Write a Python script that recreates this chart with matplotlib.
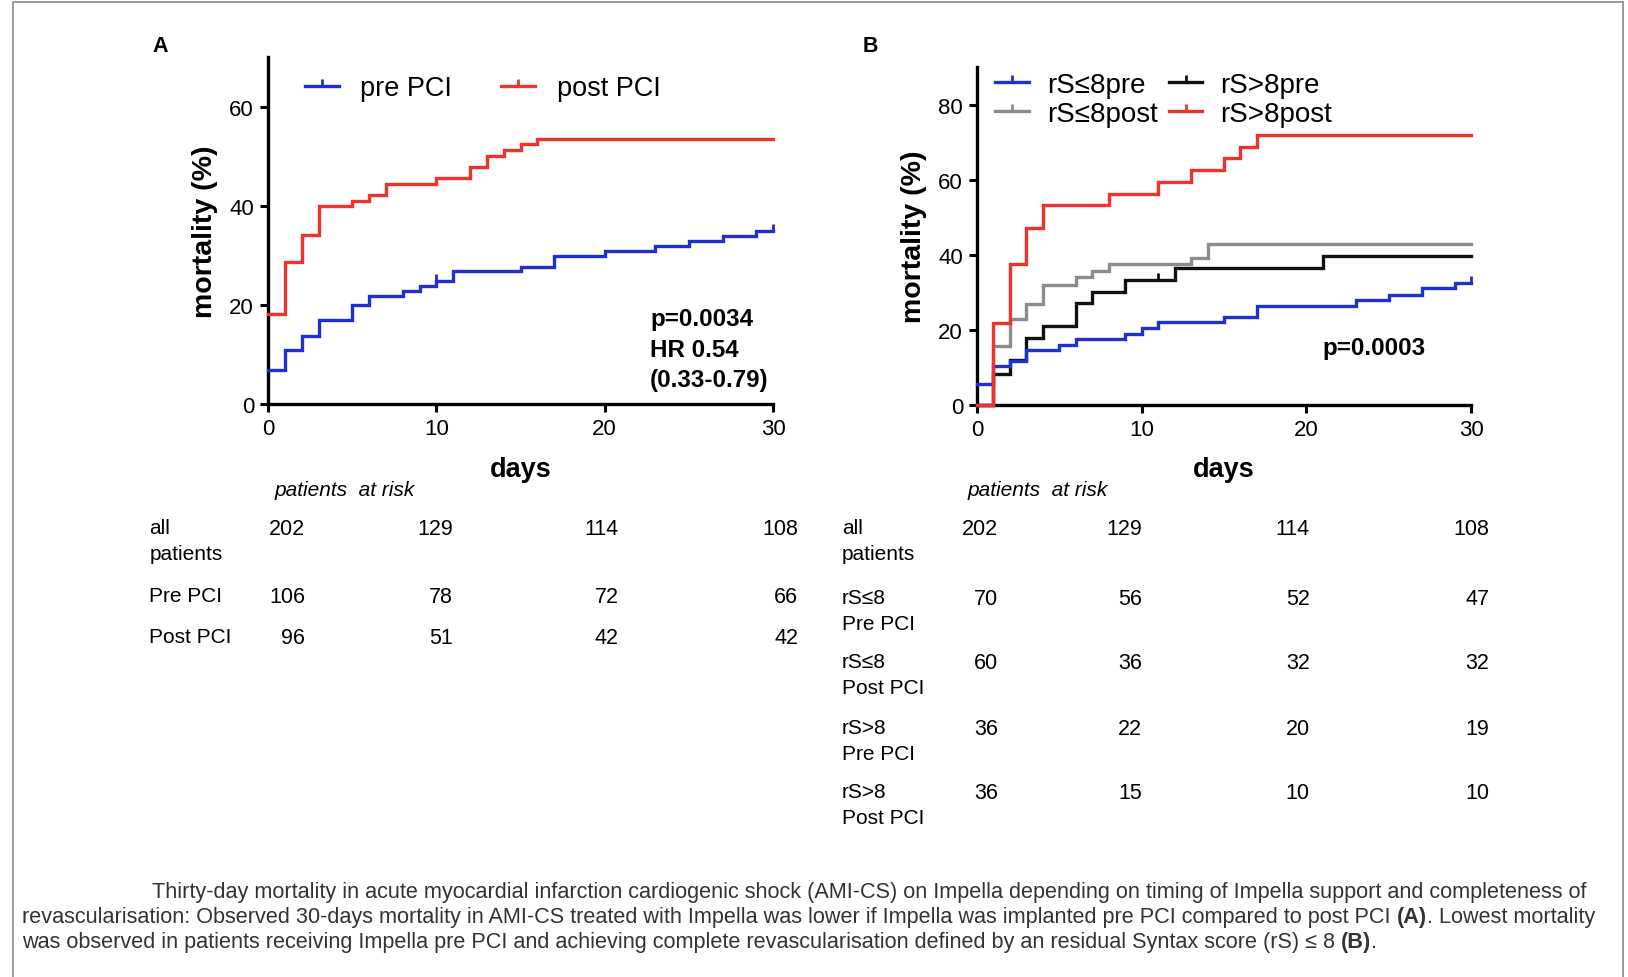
import matplotlib
matplotlib.use("Agg")
import matplotlib.pyplot as plt
from matplotlib.path import Path
from matplotlib.lines import Line2D
from matplotlib.patches import Rectangle
from matplotlib import transforms, font_manager

W, H = 1628, 978

# ---------------- data ----------------
# Panel A: Kaplan-Meier mortality (%) by timing of Impella support
pre_days = [0, 1, 2, 3, 5, 6, 8, 9, 10, 11, 15, 17, 20, 23, 25, 27, 29, 30]
pre_mort = [6.8, 10.8, 13.8, 16.9, 19.9, 21.8, 22.8, 23.8, 24.8, 26.8, 27.7,
            29.8, 30.8, 31.8, 32.8, 33.8, 34.9, 34.9]
post_days = [0, 1, 2, 3, 5, 6, 7, 10, 12, 13, 14, 15, 16, 30]
post_mort = [18.2, 28.6, 34.1, 39.9, 40.9, 42.1, 44.4, 45.5, 47.8, 50.0, 51.2,
             52.4, 53.5, 53.5]
pre_censor = [(10, 24.8), (30, 34.9)]

# Panel B: by residual Syntax score and timing
rs_le8_pre_days = [0, 1, 2, 3, 5, 6, 9, 10, 11, 15, 17, 23, 25, 27, 29, 30]
rs_le8_pre_mort = [5.6, 10.3, 11.8, 14.6, 16.0, 17.6, 19.0, 20.4, 22.0, 23.4,
                   26.4, 28.0, 29.4, 31.1, 32.6, 32.6]
rs_le8_post_days = [0, 1, 2, 3, 4, 6, 7, 8, 13, 14, 30]
rs_le8_post_mort = [0, 15.8, 22.9, 26.8, 32.0, 34.0, 35.7, 37.6, 39.2, 42.9, 42.9]
rs_gt8_pre_days = [0, 1, 2, 3, 4, 6, 7, 9, 12, 21, 30]
rs_gt8_pre_mort = [0, 8.3, 12.1, 17.9, 21.1, 27.2, 30.2, 33.2, 36.4, 39.6, 39.6]
rs_gt8_post_days = [0, 1, 2, 3, 4, 8, 11, 13, 15, 16, 17, 30]
rs_gt8_post_mort = [0, 21.8, 37.5, 47.0, 53.2, 56.3, 59.5, 62.6, 65.8, 68.8,
                    72.0, 72.0]
rs_le8_pre_censor = [(30, 32.6)]
rs_gt8_pre_censor = [(11, 33.2)]

# Patients at risk
risk_days = [0, 10, 20, 30]
risk_a_labels = ["all\npatients", "Pre PCI", "Post PCI"]
risk_a_values = [[202, 129, 114, 108], [106, 78, 72, 66], [96, 51, 42, 42]]
risk_b_labels = ["all\npatients", "rS≤8\nPre PCI", "rS≤8\nPost PCI",
                 "rS>8\nPre PCI", "rS>8\nPost PCI"]
risk_b_values = [[202, 129, 114, 108], [70, 56, 52, 47], [60, 36, 32, 32],
                 [36, 22, 20, 19], [36, 15, 10, 10]]

caption_lines = [
    [("Thirty-day mortality in acute myocardial infarction cardiogenic shock "
      "(AMI-CS) on Impella depending on timing of Impella support and "
      "completeness of", False)],
    [("revascularisation: Observed 30-days mortality in AMI-CS treated with "
      "Impella was lower if Impella was implanted pre PCI compared to post PCI ",
      False), ("(A)", True), (". Lowest mortality", False)],
    [("was observed in patients receiving Impella pre PCI and achieving complete "
      "revascularisation defined by an residual Syntax score (rS) ≤ 8 ", False),
     ("(B)", True), (".", False)],
]

# ---------------- style ----------------
BLUE = "#1f2fd0"
RED = "#f0322c"
GRAY = "#8c8c8c"
BLACK = "#111111"

plt.rcParams["font.family"] = ["Liberation Sans", "DejaVu Sans"]
available = {f.name for f in font_manager.fontManager.ttflist}
NARROW = ["Liberation Sans Narrow", "Liberation Sans", "DejaVu Sans"] \
    if "Liberation Sans Narrow" in available else ["Liberation Sans", "DejaVu Sans"]

censor = Path([(0, 0), (0, 1)], [Path.MOVETO, Path.LINETO])
LW = 2.4

fig = plt.figure(figsize=(W / 100, H / 100), dpi=100)


def px_to_fig(x, y):
    return x / W, 1 - y / H


def style_axes(ax, ymax, yticks):
    ax.set_xlim(0, 30)
    ax.set_ylim(0, ymax)
    ax.set_xticks([0, 10, 20, 30])
    ax.set_yticks(yticks)
    for s in ("top", "right"):
        ax.spines[s].set_visible(False)
    for s in ("left", "bottom"):
        ax.spines[s].set_linewidth(2.4)
        ax.spines[s].set_color("black")
    ax.tick_params(axis="both", length=6, width=2.2, labelsize=16, pad=4,
                   direction="out")


def km(ax, days, mort, color, z=3):
    ax.step(days, mort, where="post", color=color, lw=LW, zorder=z,
            clip_on=False, solid_joinstyle="miter")


def censor_marks(ax, pts, color):
    ax.plot([p[0] for p in pts], [p[1] for p in pts], linestyle="none",
            marker=censor, markersize=10, markeredgewidth=2, color=color,
            zorder=4, clip_on=False)


def handle(color):
    return Line2D([], [], color=color, lw=LW, marker=censor, markersize=10,
                  markeredgewidth=2)


# ---------------- panel A ----------------
axA = fig.add_axes([268 / W, 1 - 405 / H, (773 - 268) / W, (405 - 58) / H])
style_axes(axA, 70, [0, 20, 40, 60])
km(axA, post_days, post_mort, RED)
km(axA, pre_days, pre_mort, BLUE)
censor_marks(axA, pre_censor, BLUE)
axA.set_ylabel("mortality (%)", fontsize=20.5, fontweight="bold", labelpad=8)
for txt, yv in zip(["p=0.0034", "HR 0.54", "(0.33-0.79)"], [17.2, 11.0, 5.0]):
    axA.text(22.7, yv, txt, fontsize=17.4, fontweight="bold", va="center",
             ha="left")
axA.legend([handle(BLUE), handle(RED)], ["pre PCI", "post PCI"], ncol=2,
           loc="center left", bbox_to_anchor=(0.073, 0.91), frameon=False,
           fontsize=19.5, handlelength=1.25, handletextpad=0.8,
           columnspacing=1.8, borderpad=0, borderaxespad=0)

# ---------------- panel B ----------------
axB = fig.add_axes([977 / W, 1 - 406 / H, (1471 - 977) / W, (406 - 68) / H])
style_axes(axB, 90, [0, 20, 40, 60, 80])
km(axB, rs_le8_post_days, rs_le8_post_mort, GRAY)
km(axB, rs_gt8_pre_days, rs_gt8_pre_mort, BLACK)
km(axB, rs_le8_pre_days, rs_le8_pre_mort, BLUE)
km(axB, rs_gt8_post_days, rs_gt8_post_mort, RED)
censor_marks(axB, rs_le8_pre_censor, BLUE)
censor_marks(axB, rs_gt8_pre_censor, BLACK)
axB.set_ylabel("mortality (%)", fontsize=20.5, fontweight="bold", labelpad=8)
axB.text(21.0, 15.3, "p=0.0003", fontsize=17.4, fontweight="bold",
         va="center", ha="left")
axB.legend([handle(BLUE), handle(GRAY), handle(BLACK), handle(RED)],
           ["rS≤8pre", "rS≤8post", "rS>8pre", "rS>8post"], ncol=2,
           loc="upper left", bbox_to_anchor=(0.036, 0.985), frameon=False,
           fontsize=20, handlelength=1.22, handletextpad=0.65,
           columnspacing=0.4, labelspacing=0.1, borderpad=0,
           borderaxespad=0)

# ---------------- x labels, panel letters ----------------
for ax in (axA, axB):
    tr = transforms.blended_transform_factory(ax.transData, fig.transFigure)
    ax.text(15, 1 - 470 / H, "days", transform=tr, fontsize=19.5,
            fontweight="bold", ha="center", va="center")
fig.text(*px_to_fig(160, 46), "A", fontsize=15.5, fontweight="bold",
         ha="center", va="center")
fig.text(*px_to_fig(870, 46), "B", fontsize=15.5, fontweight="bold",
         ha="center", va="center")


# ---------------- patients-at-risk tables ----------------
def risk_table(ax, labels, values, label_x, col_x, row_y, head_x):
    tr = transforms.blended_transform_factory(ax.transData, fig.transFigure)
    ax.text(head_x, 1 - 491 / H, "patients  at risk", transform=tr,
            fontsize=15, style="italic", family=NARROW, ha="left",
            va="center")
    for lab, vals, y in zip(labels, values, row_y):
        ax.text(label_x, 1 - y / H, lab, transform=tr, fontsize=15,
                family=NARROW, ha="left", va="top", linespacing=1.45)
        for v, cx in zip(vals, col_x):
            ax.text(cx, 1 - y / H, str(v), transform=tr, fontsize=15.5,
                    family=NARROW, ha="right", va="top")


risk_table(axA, risk_a_labels, risk_a_values, -7.05,
           [2.2, 11.0, 20.85, 31.5], [519, 587, 628], 0.4)
risk_table(axB, risk_b_labels, risk_b_values, -8.2,
           [1.3, 10.0, 20.2, 31.1], [519, 589, 653, 719, 783], -0.6)

# ---------------- caption ----------------
renderer = fig.canvas.get_renderer()
CAP_COLOR = "#333333"
CAP_SIZE = 15.6


def text_width(s, weight):
    probe = fig.text(0, 0, s + "|", fontsize=CAP_SIZE, fontweight=weight)
    bar = fig.text(0, 0, "|", fontsize=CAP_SIZE, fontweight=weight)
    w = probe.get_window_extent(renderer).width - \
        bar.get_window_extent(renderer).width
    probe.remove()
    bar.remove()
    return w


for runs, x0, y in zip(caption_lines, [152, 22, 22], [893, 918, 943]):
    x = x0
    for s, bold in runs:
        weight = "bold" if bold else "normal"
        fig.text(*px_to_fig(x, y), s, fontsize=CAP_SIZE, fontweight=weight,
                 color=CAP_COLOR, ha="left", va="center")
        x += text_width(s, weight)

# frame around the figure
fig.patches.append(Rectangle((13 / W, -0.02), (1623 - 13) / W, 1.02 - 3 / H,
                             transform=fig.transFigure, fill=False,
                             edgecolor="#8a8a8a", lw=1.2))

fig.savefig("out.png", dpi=100)
